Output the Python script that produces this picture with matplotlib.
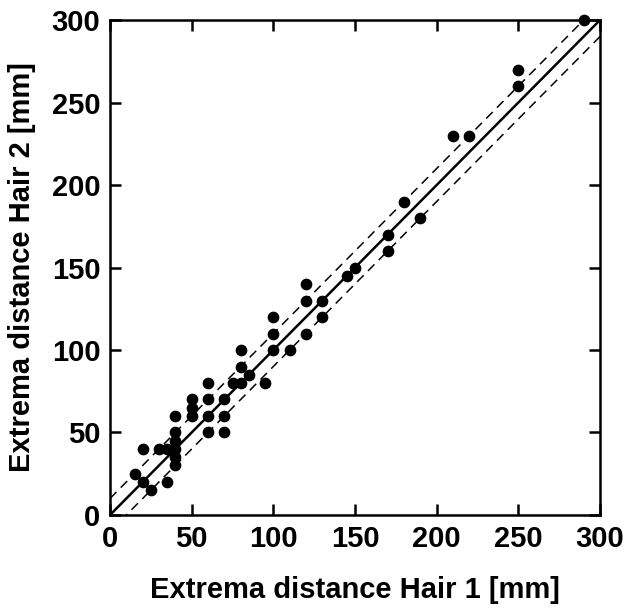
import matplotlib.pyplot as plt
import numpy as np

plt.rcParams['font.family'] = ['Liberation Sans', 'DejaVu Sans']
plt.rcParams['font.weight'] = 'bold'

# extrema distances [mm]
hair1 = [15, 20, 20, 25, 30, 35, 35,
         40, 40, 40, 40, 40, 40,
         50, 50, 50, 60, 60, 60, 60,
         70, 70, 70, 75, 80, 80, 80, 85, 95,
         100, 100, 100, 110, 120, 120, 120, 130, 130,
         145, 150, 170, 170, 180, 190, 210, 220, 250, 250, 290]
hair2 = [25, 20, 40, 15, 40, 40, 20,
         60, 50, 45, 40, 35, 30,
         70, 65, 60, 80, 70, 60, 50,
         70, 60, 50, 80, 80, 90, 100, 85, 80,
         120, 110, 100, 100, 140, 130, 110, 130, 120,
         145, 150, 170, 160, 190, 180, 230, 230, 270, 260, 300]

band = 10  # +/- tolerance lines [mm]
line_x = np.array([0, 300])

fig = plt.figure(figsize=(6.25, 6.08), dpi=100)
ax = fig.add_axes([0.176, 0.153, 0.784, 0.814])

ax.plot(line_x, line_x, color='black', lw=1.8)
ax.plot(line_x, line_x + band, color='black', lw=1.1, dashes=(6, 4))
ax.plot(line_x, line_x - band, color='black', lw=1.1, dashes=(6, 4))
ax.scatter(hair1, hair2, s=55, color='black', zorder=3, clip_on=False)

ax.set_xlim(0, 300)
ax.set_ylim(0, 300)
ax.set_xticks(range(0, 301, 50))
ax.set_yticks(range(0, 301, 50))
ax.tick_params(direction='in', length=8, width=1.8, top=True, right=True,
               labelsize=21, pad=7)
for s in ax.spines.values():
    s.set_linewidth(1.8)

ax.set_xlabel('Extrema distance Hair 1 [mm]', fontsize=21, fontweight='bold', labelpad=17)
ax.set_ylabel('Extrema distance Hair 2 [mm]', fontsize=21, fontweight='bold', labelpad=11)

plt.savefig('out.png', dpi=100)
